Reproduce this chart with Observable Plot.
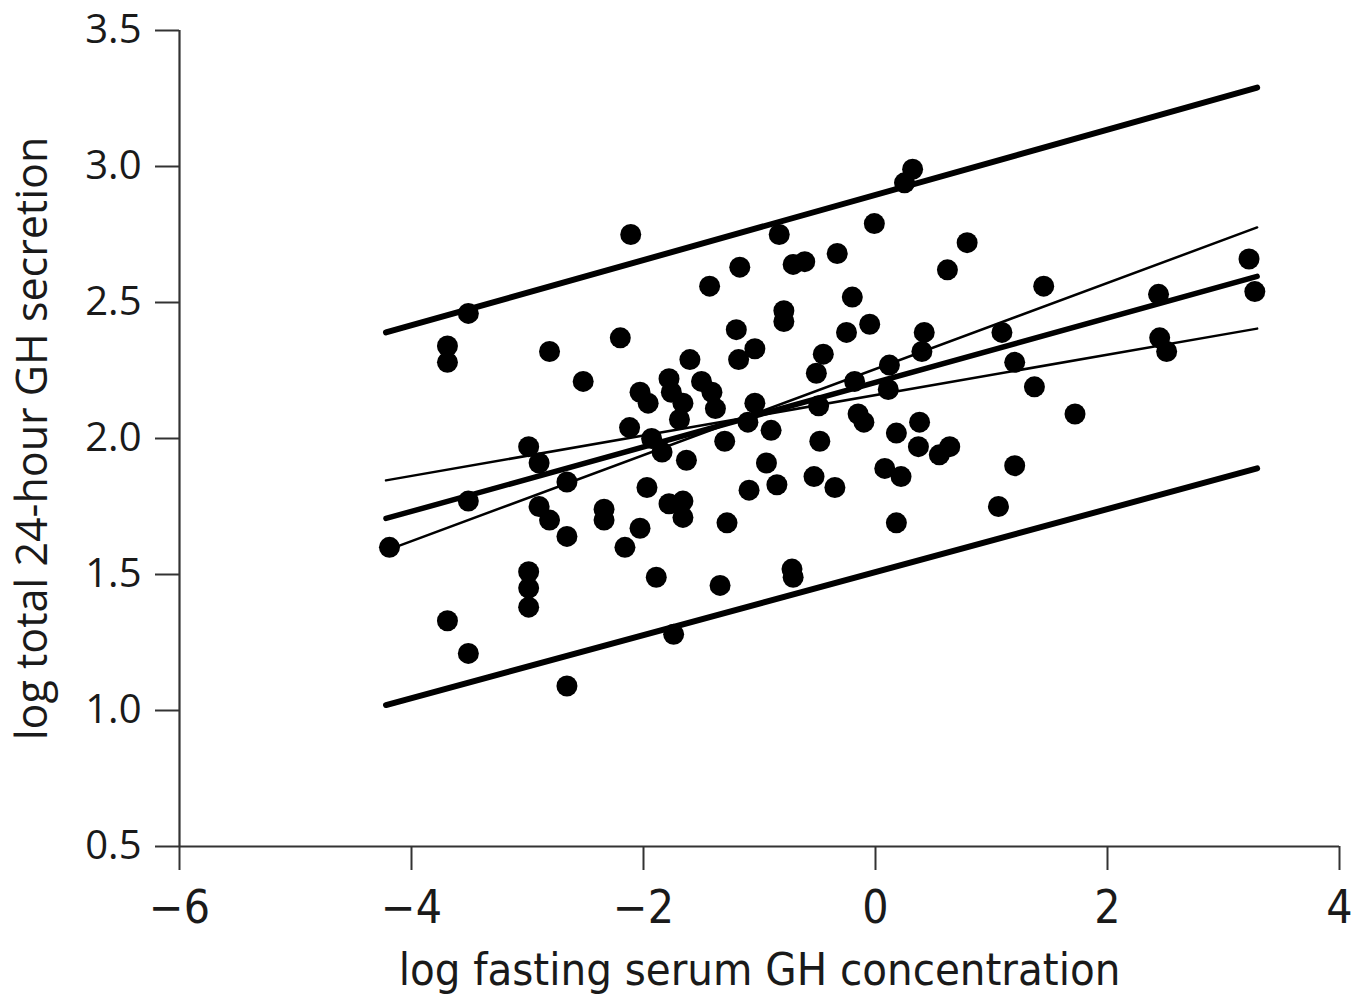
<!DOCTYPE html>
<html>
<head>
<meta charset="utf-8">
<script src="https://cdn.jsdelivr.net/npm/d3@7"></script>
<script src="https://cdn.jsdelivr.net/npm/@observablehq/plot@0.6"></script>
<style>
  html, body { margin: 0; padding: 0; background: #fff; }
</style>
</head>
<body>
<div id="chart"></div>
<script>
// Scatter values: log fasting serum GH (x) and log total 24-hour GH secretion (y)
const xs = [-4.19,-3.69,-3.69,-3.51,-3.51,-3.69,-3.51,-2.99,-2.90,-2.90,-2.81,-2.81,-2.99,-2.99,-2.99,-2.66,-2.66,-2.66,-2.52,-2.34,-2.34,-2.20,-2.11,-2.12,-2.16,-2.03,-2.03,-1.96,-1.93,-1.84,-1.97,-1.89,-1.78,-1.76,-1.66,-1.69,-1.63,-1.60,-1.78,-1.66,-1.66,-1.74,-1.50,-1.41,-1.38,-1.43,-1.30,-1.28,-1.34,-1.20,-1.18,-1.17,-1.04,-1.04,-1.10,-1.09,-0.94,-0.90,-0.85,-0.83,-0.79,-0.79,-0.72,-0.71,-0.71,-0.61,-0.53,-0.51,-0.49,-0.48,-0.45,-0.35,-0.33,-0.25,-0.20,-0.18,-0.15,-0.10,-0.05,-0.01,0.08,0.22,0.12,0.11,0.18,0.18,0.25,0.32,0.38,0.37,0.40,0.42,0.55,0.64,0.62,0.79,1.06,1.09,1.20,1.20,1.37,1.45,1.72,2.44,2.45,2.51,3.22,3.27];
const ys = [1.60,2.34,2.28,2.46,1.77,1.33,1.21,1.97,1.91,1.75,1.70,2.32,1.51,1.45,1.38,1.84,1.64,1.09,2.21,1.74,1.70,2.37,2.75,2.04,1.60,1.67,2.17,2.13,2.00,1.95,1.82,1.49,2.22,2.17,2.13,2.07,1.92,2.29,1.76,1.77,1.71,1.28,2.21,2.17,2.11,2.56,1.99,1.69,1.46,2.40,2.29,2.63,2.33,2.13,2.06,1.81,1.91,2.03,1.83,2.75,2.47,2.43,1.52,1.49,2.64,2.65,1.86,2.24,2.12,1.99,2.31,1.82,2.68,2.39,2.52,2.21,2.09,2.06,2.42,2.79,1.89,1.86,2.27,2.18,2.02,1.69,2.94,2.99,2.06,1.97,2.32,2.39,1.94,1.97,2.62,2.72,1.75,2.39,2.28,1.90,2.19,2.56,2.09,2.53,2.37,2.32,2.66,2.54];

// Fitted lines (values at the two ends of the fitted range)
const lineX      = [-4.22, 3.29];
const fitY       = [1.706, 2.596];   // regression line
const upperPI    = [2.39, 3.29];     // upper prediction limit
const lowerPI    = [1.02, 1.89];     // lower prediction limit
const steepCI    = [1.588, 2.776];   // confidence limit (steep slope)
const shallowCI  = [1.846, 2.404];   // confidence limit (shallow slope)

const xDomain = [-6, 4];
const yDomain = [0.5, 3.5];
const xTicks = [-6, -4, -2, 0, 2, 4];
const yTicks = [0.5, 1.0, 1.5, 2.0, 2.5, 3.0, 3.5];
const xLabel = "log fasting serum GH concentration";
const yLabel = "log total 24-hour GH secretion";

const points = xs.map((x, i) => ({x, y: ys[i]}));
const mkLine = (vals) => lineX.map((x, i) => ({x, y: vals[i]}));

const axisColor = "#333";
const textColor = "#1a1a1a";
const narrow = "'Liberation Sans Narrow', 'DejaVu Sans Condensed', 'Open Sans', sans-serif";
const wide = "'Open Sans', 'DejaVu Sans', sans-serif";

const chart = Plot.plot({
  width: 1369,
  height: 1005,
  marginLeft: 179,
  marginRight: 30,
  marginTop: 30,
  marginBottom: 159,
  style: {background: "#fff", color: textColor, fontFamily: wide},
  x: {domain: xDomain},
  y: {domain: yDomain},
  marks: [
    Plot.ruleX([xDomain[0]], {y1: yDomain[0], y2: yDomain[1], stroke: axisColor, strokeWidth: 2.2}),
    Plot.ruleY([yDomain[0]], {x1: xDomain[0], x2: xDomain[1], stroke: axisColor, strokeWidth: 2.2}),
    Plot.axisY({ticks: yTicks, tickFormat: d3.format(".1f"), tickSize: 24, tickPadding: 14,
      fontSize: 40, fontFamily: wide, stroke: axisColor, strokeWidth: 2, fill: textColor, label: null}),
    Plot.axisX({ticks: xTicks, tickFormat: d => d < 0 ? "\u2212" + Math.abs(d) : String(d), tickSize: 24, tickPadding: 20,
      fontSize: 46, fontFamily: narrow, stroke: axisColor, strokeWidth: 2, fill: textColor, label: null}),
    Plot.line(mkLine(upperPI), {x: "x", y: "y", stroke: "#000", strokeWidth: 6}),
    Plot.line(mkLine(lowerPI), {x: "x", y: "y", stroke: "#000", strokeWidth: 6}),
    Plot.line(mkLine(fitY), {x: "x", y: "y", stroke: "#000", strokeWidth: 5.5}),
    Plot.line(mkLine(steepCI), {x: "x", y: "y", stroke: "#000", strokeWidth: 2.5}),
    Plot.line(mkLine(shallowCI), {x: "x", y: "y", stroke: "#000", strokeWidth: 2.5}),
    Plot.dot(points, {x: "x", y: "y", r: 10.5, fill: "#000", stroke: "none"}),
    Plot.text([yLabel], {frameAnchor: "left", dx: -146, rotate: -90, textAnchor: "middle", lineAnchor: "middle",
      fontSize: 43, fontFamily: wide, fill: textColor}),
    Plot.text([xLabel], {frameAnchor: "bottom", dy: 124, textAnchor: "middle", lineAnchor: "middle",
      fontSize: 45, fontFamily: narrow, fill: textColor})
  ]
});
document.getElementById("chart").appendChild(chart);
</script>
</body>
</html>
